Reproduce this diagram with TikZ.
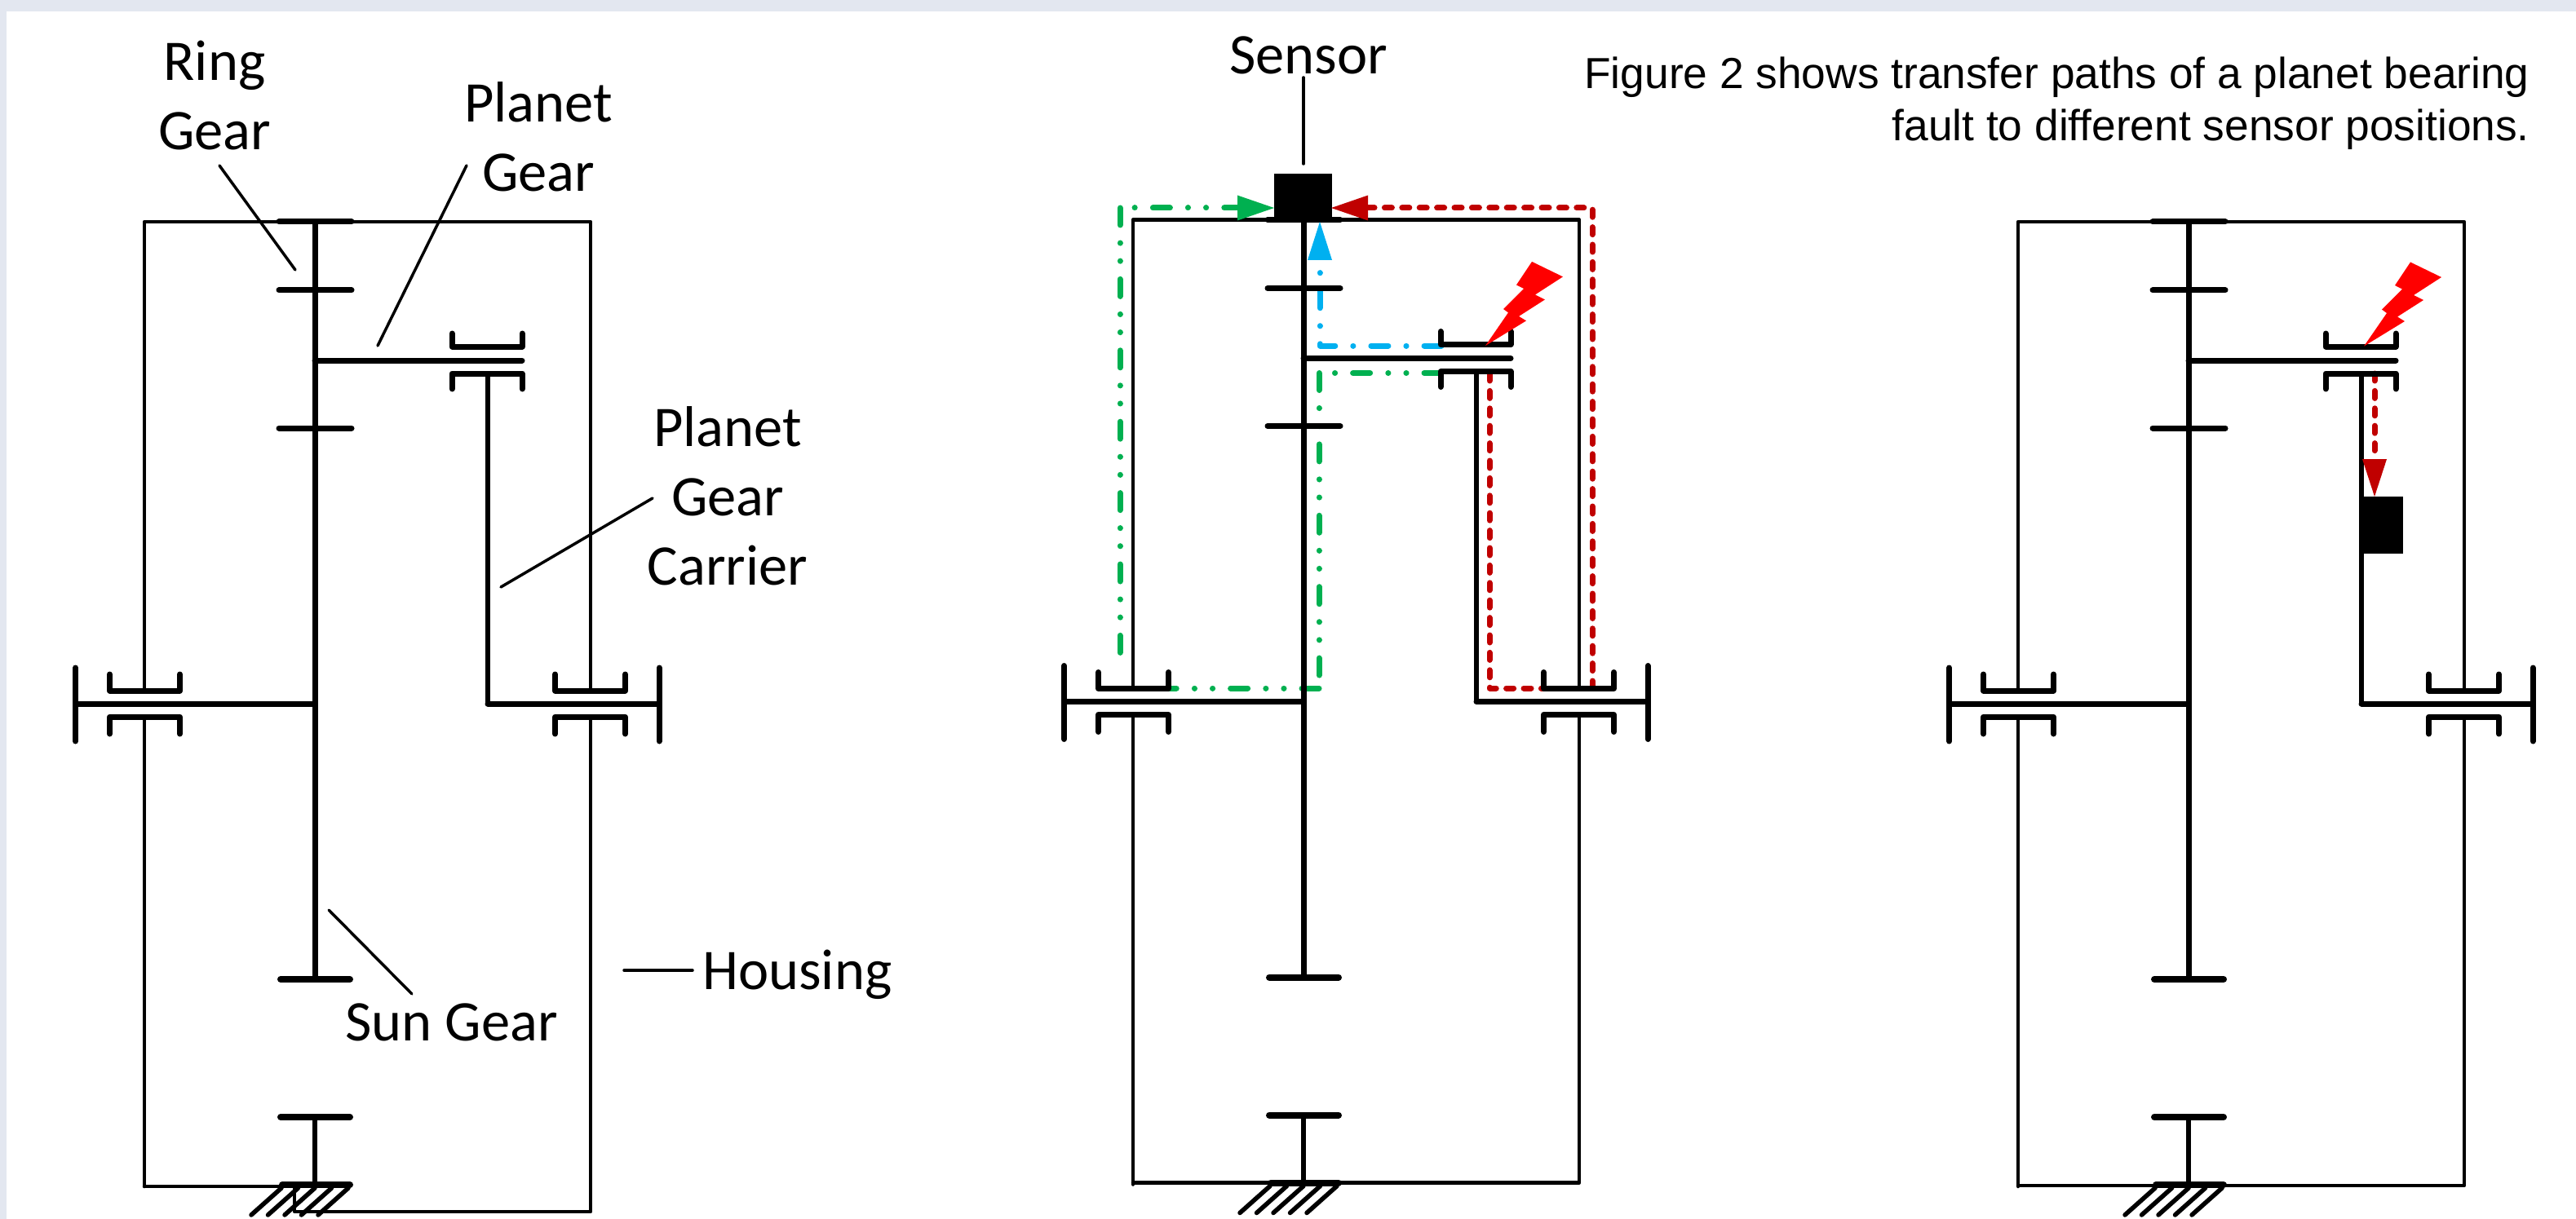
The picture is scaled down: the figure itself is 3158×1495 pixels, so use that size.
\documentclass[tikz,border=0pt]{standalone}
\usepackage{fontspec}
\setmainfont{Carlito}
\newfontfamily\arialfont{Liberation Sans}
\definecolor{bandcol}{HTML}{E3E7F0}
\definecolor{pathgreen}{HTML}{00B050}
\definecolor{pathred}{HTML}{C00000}
\definecolor{pathblue}{HTML}{00B0F0}
\tikzset{
  housing/.style={line width=4.5pt,line join=round,line cap=round},
  shaft/.style={line width=7pt,line join=round,line cap=round},
  thinshaft/.style={line width=5.5pt,line join=round,line cap=round},
  bearing/.style={line width=7pt,line join=round,line cap=round},
  tickfat/.style={line width=8pt,line cap=round},
  leader/.style={line width=3.5pt,line cap=round},
  label/.style={inner sep=0pt,anchor=base,align=center,font=\fontsize{70.5}{85}\selectfont},
  note/.style={inner sep=0pt,anchor=base east,font=\arialfont\fontsize{53.3}{64}\selectfont},
  sensorbox/.style={fill=black,draw=none,inner sep=0pt},
  dgreena/.style={pathgreen,line width=7pt,line cap=round,line join=round,dash pattern=on 21pt off 22pt on 0.1pt off 22pt on 0.1pt off 22.2pt},
  dblue/.style={pathblue,line width=7pt,line cap=round,line join=round,dash pattern=on 21pt off 22pt on 0.1pt off 22pt},
  dred/.style={pathred,line width=7pt,line cap=round,line join=round,dash pattern=on 9pt off 12.4pt},
}
\newcommand{\boltshape}[2]{%
  \fill[red,shift={(#1,#2)}] (2955,321.5)--(2993,340)--(2959,362)--(2971,368)--(2939,388.5)--(2948,394)--(2898,424.6)--(2926,384)--(2920,379.6)--(2945,354.6)--(2936,350)--cycle;}
\newcommand{\bearingpair}[1]{%
  \draw[bearing] (#1-43,827)--(#1-43,847)--(#1+43,847)--(#1+43,827);
  \draw[bearing] (#1-43,900)--(#1-43,879)--(#1+43,879)--(#1+43,900);}
\newcommand{\gearboxcore}{%
  % housing, gap at the bearings
  \draw[housing] (177,847)--(177,272)--(724,272)--(724,847);
  \draw[housing] (177,880)--(177,1455);
  % main shaft and gears
  \draw[shaft] (386,272)--(386,1201);
  \draw[thinshaft] (386,1370)--(386,1453);
  \draw[bearing] (342,272)--(431,272);
  \draw[bearing] (342,356)--(431,356);
  \draw[bearing] (342,525)--(431,525);
  \draw[tickfat] (344,1201)--(429,1201);
  \draw[tickfat] (344,1370)--(429,1370);
  \draw[tickfat] (346,1453)--(429,1453);
  % planet arm
  \draw[shaft] (386,442)--(640,442);
  \draw[bearing] (554,409)--(554,425)--(640,425)--(640,409);
  \draw[bearing] (554,477)--(554,458)--(640,458)--(640,477);
  % carrier and input shaft
  \draw[thinshaft] (598,458)--(598,863);
  \draw[shaft] (598,863)--(808,863);
  \draw[shaft] (92.6,863)--(386,863);
  \draw[shaft] (92.6,819)--(92.6,909);
  \draw[shaft] (808,819)--(808,909);
  \bearingpair{177.5}
  \bearingpair{723.5}
  % ground hatch
  \foreach \hx in {345,365.5,386,406.5,427}
    \draw[thinshaft] (\hx,1457)--(\hx-37,1490);
}
\begin{document}
\begin{tikzpicture}[x=1pt,y=-1pt]
\useasboundingbox (0,0) rectangle (3158,1495);
\fill[bandcol] (0,0) rectangle (3158,14);
\fill[bandcol] (0,0) rectangle (8,1495);

% ---- coloured transfer paths of the middle diagram (under the black lines)
\node[sensorbox,minimum width=70.5pt,minimum height=59pt] (sensorB) at (1597.25,242.5) {};
\node[sensorbox,minimum width=52pt,minimum height=70pt] (sensorC) at (2920,644) {};
\coordinate (gcorner) at (1373,255);
\coordinate (gbottom) at (1373,822);
\coordinate (gbase) at (1517,255);
\coordinate (bstart) at (1767,424);
\coordinate (bcorner) at (1618,424);
\coordinate (bbase) at (1618,319);
\coordinate (g2start) at (1767,457.5);
\coordinate (g2corner) at (1617,457.5);
\coordinate (g2low) at (1617,830);
\coordinate (g3start) at (1617,844);
\coordinate (g3end) at (1430,844);
\coordinate (rstart) at (1826,458);
\coordinate (rlow) at (1826,844);
\coordinate (rmid) at (1893,844);
\coordinate (r2start) at (1952,844);
\coordinate (r2corner) at (1952,255);
\coordinate (rbase) at (1677,255);
\coordinate (r3start) at (2911,458);
\coordinate (r3base) at (2911,563);

\draw[dgreena] (gcorner)--(gbottom);
\draw[dgreena,dash phase=47pt] (gcorner)--(gbase);
\draw[dblue] (bstart)--(bcorner)--(bbase);
\draw[dgreena] (g2start)--(g2corner);
\draw[dgreena] (g2corner)--(g2low);
\draw[dgreena] (g3start)--(g3end);
\draw[dred] (rstart)--(rlow)--(rmid);
\draw[dred] (r2start)--(r2corner)--(rbase);
\draw[dred] (r3start)--(r3base);

% ---- left diagram
\gearboxcore
\draw[housing] (177,1455)--(361,1455)--(361,1486)--(724,1486)--(724,880);
% ---- middle diagram
\begin{scope}[shift={(1212,-2.5)}]
  \gearboxcore
  \draw[housing] (177,1453)--(724,1453)--(724,880);
\end{scope}
% ---- right diagram
\begin{scope}[shift={(2297,0)}]
  \gearboxcore
  \draw[housing] (177,1454)--(724,1454)--(724,880);
\end{scope}

\boltshape{-1077}{-0.6}
\boltshape{0}{0}

% sensors again on top of the black lines
\node[sensorbox,minimum width=70.5pt,minimum height=59pt] at (sensorB) {};
\node[sensorbox,minimum width=52pt,minimum height=70pt] at (sensorC) {};

% arrowheads
\fill[pathgreen] (gbase) ++(0,15.5) -- ++(45,-15.5) -- ++(-45,-15.5) -- cycle;
\fill[pathred] (rbase) ++(0,15.5) -- ++(-45,-15.5) -- ++(45,-15.5) -- cycle;
\fill[pathblue] (bbase) ++(-15,0) -- ++(15,-47) -- ++(15,47) -- cycle;
\fill[pathred] (r3base) ++(-15,0) -- ++(15,46) -- ++(15,-46) -- cycle;

% ---- labels
\node[label] (ring) at (263,184) {Ring\\Gear};
\node[label] (planet) at (660,234.5) {Planet\\Gear};
\node[label] (carrier) at (892,717) {Planet\\Gear\\Carrier};
\node[label] (sun) at (553.5,1276) {Sun Gear};
\node[label,anchor=base west] (house) at (861,1213) {Housing};
\node[label] (sensorlab) at (1604,91) {Sensor};
\node[note] (note1) at (3101,109) {Figure 2 shows transfer paths of a planet bearing};
\node[note] (note2) at (3101,173) {fault to different sensor positions.};

\coordinate (ringA) at (269,203);
\coordinate (ringB) at (362,331);
\coordinate (planetA) at (572,203);
\coordinate (planetB) at (463,424);
\coordinate (carrierA) at (800,611);
\coordinate (carrierB) at (614,720);
\coordinate (sunA) at (505,1219);
\coordinate (sunB) at (403,1116);
\coordinate (houseA) at (849,1190);
\coordinate (houseB) at (765,1190);
\coordinate (stemA) at (1598,95);
\coordinate (stemB) at (1598,201);
\draw[leader] (ringA)--(ringB);
\draw[leader] (planetA)--(planetB);
\draw[leader] (carrierA)--(carrierB);
\draw[leader] (sunA)--(sunB);
\draw[leader] (houseA)--(houseB);
\draw[leader] (stemA)--(stemB);
\end{tikzpicture}
\end{document}
